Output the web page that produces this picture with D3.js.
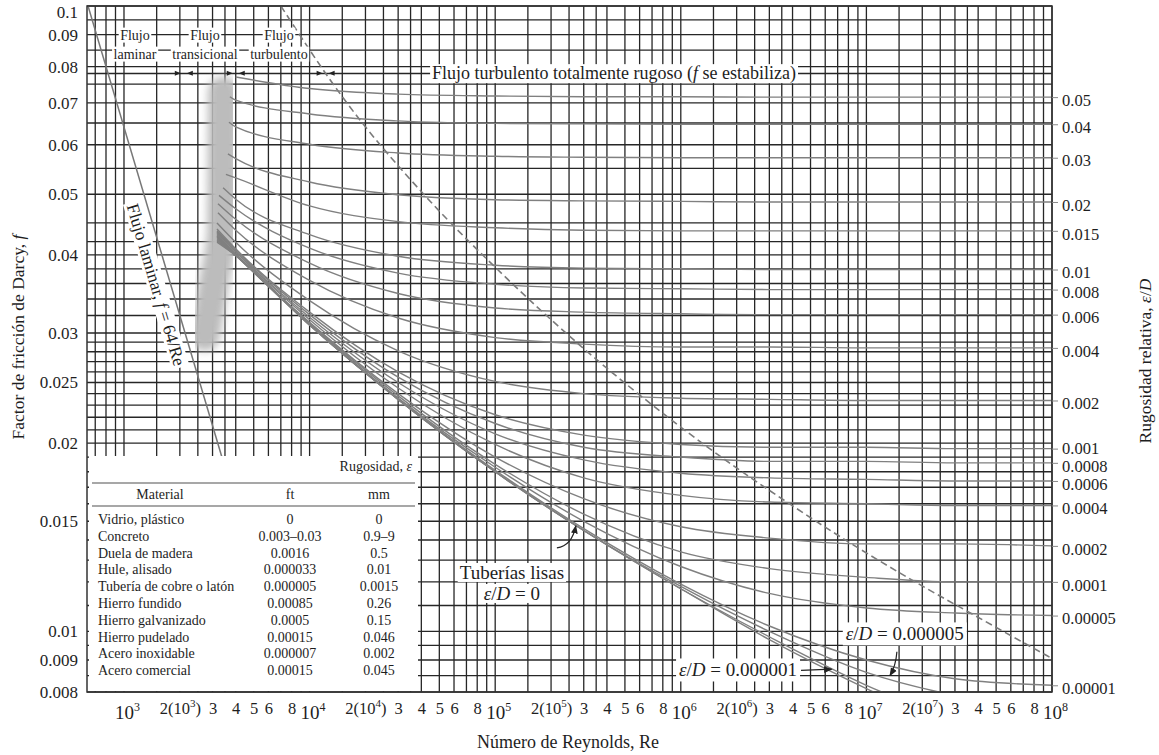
<!DOCTYPE html>
<html>
<head>
<meta charset="utf-8">
<script src="https://cdnjs.cloudflare.com/ajax/libs/d3/7.8.5/d3.min.js"></script>
<style>
  body { margin: 0; background: #fff; }
  text { font-family: "Liberation Serif", "DejaVu Serif", serif; fill: #1e1e1e; }
</style>
</head>
<body>
<svg id="chart" width="1159" height="755"></svg>
<script>
const reynolds = [4e3, 1e4, 3e4, 1e5, 3e5, 1e6, 3e6, 1e7, 3e7, 1e8];

// Darcy friction factor, one array per relative roughness
const f050    = [0.0770, 0.0738, 0.0723, 0.0718, 0.0716, 0.0716, 0.0715, 0.0715, 0.0715, 0.0715];
const f040    = [0.0707, 0.0672, 0.0655, 0.0649, 0.0648, 0.0647, 0.0647, 0.0647, 0.0647, 0.0647];
const f030    = [0.0641, 0.0601, 0.0582, 0.0575, 0.0573, 0.0572, 0.0572, 0.0572, 0.0572, 0.0572];
const f020    = [0.0570, 0.0523, 0.0499, 0.0490, 0.0488, 0.0487, 0.0486, 0.0486, 0.0486, 0.0486];
const f015    = [0.0531, 0.0479, 0.0452, 0.0442, 0.0438, 0.0437, 0.0437, 0.0437, 0.0437, 0.0437];
const f010    = [0.0491, 0.0431, 0.0398, 0.0385, 0.0381, 0.0380, 0.0379, 0.0379, 0.0379, 0.0379];
const f008    = [0.0474, 0.0410, 0.0374, 0.0359, 0.0354, 0.0353, 0.0352, 0.0352, 0.0352, 0.0352];
const f006    = [0.0456, 0.0388, 0.0347, 0.0329, 0.0324, 0.0322, 0.0321, 0.0321, 0.0321, 0.0321];
const f004    = [0.0438, 0.0364, 0.0317, 0.0295, 0.0288, 0.0285, 0.0285, 0.0284, 0.0284, 0.0284];
const f002    = [0.0419, 0.0338, 0.0281, 0.0251, 0.0240, 0.0236, 0.0235, 0.0234, 0.0234, 0.0234];
const f001    = [0.0409, 0.0324, 0.0260, 0.0222, 0.0206, 0.0199, 0.0197, 0.0197, 0.0196, 0.0196];
const f0008   = [0.0407, 0.0321, 0.0255, 0.0215, 0.0197, 0.0190, 0.0187, 0.0187, 0.0186, 0.0186];
const f0006   = [0.0405, 0.0318, 0.0250, 0.0207, 0.0188, 0.0179, 0.0176, 0.0175, 0.0174, 0.0174];
const f0004   = [0.0404, 0.0315, 0.0245, 0.0199, 0.0176, 0.0165, 0.0161, 0.0160, 0.0159, 0.0159];
const f0002   = [0.0401, 0.0312, 0.0240, 0.0190, 0.0163, 0.0147, 0.0141, 0.0138, 0.0138, 0.0137];
const f0001   = [0.0400, 0.0311, 0.0238, 0.0185, 0.0154, 0.0134, 0.0126, 0.0122, 0.0120, 0.0120];
const f00005  = [0.0400, 0.0310, 0.0236, 0.0183, 0.0150, 0.0127, 0.0115, 0.0109, 0.0107, 0.0106];
const f00001  = [0.0399, 0.0309, 0.0235, 0.0181, 0.0146, 0.0119, 0.0102, 0.0090, 0.0084, 0.0082];
const f000005 = [0.0399, 0.0309, 0.0235, 0.0180, 0.0145, 0.0118, 0.0100, 0.0086, 0.0079, 0.0075];
const f000001 = [0.0399, 0.0309, 0.0235, 0.0180, 0.0145, 0.0117, 0.0098, 0.0082, 0.0072, 0.0064];
const fSmooth = [0.0399, 0.0309, 0.0235, 0.0180, 0.0145, 0.0117, 0.0097, 0.0081, 0.0070, 0.0059];

const roughLabels = ["0.05", "0.04", "0.03", "0.02", "0.015", "0.01", "0.008", "0.006", "0.004",
  "0.002", "0.001", "0.0008", "0.0006", "0.0004", "0.0002", "0.0001", "0.00005", "0.00001"];
const roughCurves = [f050, f040, f030, f020, f015, f010, f008, f006, f004,
  f002, f001, f0008, f0006, f0004, f0002, f0001, f00005, f00001];
const lowCurves = [f000005, f000001, fSmooth];

// where each curve begins inside the transition band (same order: rough, then low)
const startRe = [4000, 3720, 3680, 3630, 3540, 3420, 3250, 3210, 3210, 3170, 3170,
  3170, 3170, 3170, 3170, 3170, 3170, 3170, 3170, 3170, 3170];
const startF = [0.0770, 0.0716, 0.0652, 0.0580, 0.0538, 0.0512, 0.0498, 0.0483, 0.0467, 0.0450, 0.0440,
  0.0437, 0.0435, 0.0433, 0.0431, 0.0429, 0.0427, 0.0425, 0.0423, 0.0421, 0.0419];

// laminar line f = 64/Re
const laminarRe = [632, 4000];
const laminarF = [0.1013, 0.016];

// dashed limit of the fully rough zone
const dashedRe = [7000, 15000, 45000, 1.03e5, 2.97e5, 6.54e5, 1.43e6, 3.97e6, 8.53e6, 1.83e7, 3.89e7, 1e8];
const dashedF = [0.1, 0.0716, 0.0486, 0.0379, 0.0284, 0.0234, 0.0196, 0.0159, 0.01374, 0.0120, 0.01058, 0.00905];

// shaded transition band (centre line)
const bandRe = [3420, 3380, 3060, 2730];
const bandF = [0.0729, 0.0438, 0.0362, 0.0297];

// flow regime boundaries marked with arrows
const boundaryRe = [2100, 4000, 12200];

// axes
const yTicks = [0.1, 0.09, 0.08, 0.07, 0.06, 0.05, 0.04, 0.03, 0.025, 0.02, 0.015, 0.01, 0.009, 0.008];
const yGrid = [0.1, 0.095, 0.09, 0.085, 0.08, 0.078, 0.075, 0.07, 0.065, 0.06, 0.055, 0.05, 0.045,
  0.042, 0.04, 0.038, 0.036, 0.034, 0.032, 0.03, 0.029, 0.028, 0.027, 0.026, 0.025, 0.024, 0.023,
  0.022, 0.021, 0.02, 0.019, 0.018, 0.017, 0.016, 0.015, 0.014, 0.013, 0.012, 0.011, 0.01,
  0.0095, 0.009, 0.0085, 0.008];
const xGridSteps = [1, 1.5, 2, 2.5, 3, 3.5, 4, 5, 6, 7, 8, 9];
const xLabelSteps = [1, 2, 3, 4, 5, 6, 8];
const decades = [1e2, 1e3, 1e4, 1e5, 1e6, 1e7, 1e8];

// roughness table
const materials = ["Vidrio, plástico", "Concreto", "Duela de madera", "Hule, alisado",
  "Tubería de cobre o latón", "Hierro fundido", "Hierro galvanizado", "Hierro pudelado",
  "Acero inoxidable", "Acero comercial"];
const roughFt = ["0", "0.003–0.03", "0.0016", "0.000033", "0.000005", "0.00085", "0.0005",
  "0.00015", "0.000007", "0.00015"];
const roughMm = ["0", "0.9–9", "0.5", "0.01", "0.0015", "0.26", "0.15", "0.046", "0.002", "0.045"];

const serif = '"Liberation Serif", "DejaVu Serif", serif';
const svg = d3.select("#chart");

const x = d3.scaleLog().domain([632, 1e8]).range([87, 1052]);
const y = d3.scaleLog().domain([0.008, 0.1]).range([692, 6]);

// white box behind a text, drawn in the text's own group
function backed(parent, transform, padX, padY, build) {
  const g = parent.append("g");
  if (transform) g.attr("transform", transform);
  const t = g.append("text");
  build(t);
  const b = t.node().getBBox();
  g.insert("rect", "text").attr("x", b.x - padX).attr("y", b.y - padY)
    .attr("width", b.width + 2 * padX).attr("height", b.height + 2 * padY).attr("fill", "#fff");
  return t;
}
function eps(t, rest) {
  t.append("tspan").attr("font-style", "italic").text("ε");
  t.append("tspan").text("/");
  t.append("tspan").attr("font-style", "italic").text("D");
  t.append("tspan").text(rest);
}

const defs = svg.append("defs");
defs.append("clipPath").attr("id", "plot")
  .append("rect").attr("x", 87).attr("y", 6).attr("width", 965).attr("height", 686);
defs.append("filter").attr("id", "soft").attr("x", "-50%").attr("y", "-20%")
  .attr("width", "200%").attr("height", "140%")
  .append("feGaussianBlur").attr("stdDeviation", 4.5);
defs.append("marker").attr("id", "head").attr("viewBox", "0 0 10 10")
  .attr("refX", 9).attr("refY", 5).attr("markerWidth", 7).attr("markerHeight", 7)
  .attr("orient", "auto")
  .append("path").attr("d", "M0,1 L10,5 L0,9 z").attr("fill", "#222");

// grid
const xGrid = decades.flatMap(d => xGridSteps.map(s => s * d))
  .filter(v => v >= 632 && v <= 1e8);
const grid = svg.append("g").attr("stroke", "#262626").attr("stroke-width", 1.3);
grid.selectAll("line.v").data(xGrid).join("line").attr("class", "v")
  .attr("x1", d => x(d)).attr("x2", d => x(d)).attr("y1", y(0.1)).attr("y2", y(0.008));
grid.selectAll("line.h").data(yGrid).join("line").attr("class", "h")
  .attr("y1", d => y(d)).attr("y2", d => y(d)).attr("x1", x(632)).attr("x2", x(1e8));

// transition band
svg.append("path")
  .datum(bandRe.map((r, i) => [r, bandF[i]]))
  .attr("d", d3.line().x(d => x(d[0])).y(d => y(d[1])).curve(d3.curveMonotoneY))
  .attr("fill", "none").attr("stroke", "#bcbcbc").attr("stroke-width", 30)
  .attr("stroke-linecap", "round").attr("stroke-linejoin", "round")
  .attr("filter", "url(#soft)");

const plot = svg.append("g").attr("clip-path", "url(#plot)");
const curveLine = d3.line().x(d => x(d[0])).y(d => y(d[1])).curve(d3.curveMonotoneX);

// dashed boundary
plot.append("path")
  .datum(dashedRe.map((r, i) => [r, dashedF[i]]))
  .attr("d", curveLine).attr("fill", "none")
  .attr("stroke", "#7a7a7a").attr("stroke-width", 1.6).attr("stroke-dasharray", "7,4");

// friction curves
plot.selectAll("path.curve").data(roughCurves.concat(lowCurves)).join("path")
  .attr("class", "curve")
  .attr("d", (fs, i) => curveLine([[startRe[i], startF[i]]].concat(
    reynolds.map((r, k) => [r, fs[k]]).filter(p => p[0] > startRe[i]))))
  .attr("fill", "none").attr("stroke", "#808080").attr("stroke-width", 1.4);

// laminar line
plot.append("path")
  .datum(laminarRe.map((r, i) => [r, laminarF[i]]))
  .attr("d", d3.line().x(d => x(d[0])).y(d => y(d[1])))
  .attr("stroke", "#777").attr("stroke-width", 1.5).attr("fill", "none");

// frame
svg.append("rect").attr("x", 87).attr("y", 6).attr("width", 965).attr("height", 686)
  .attr("fill", "none").attr("stroke", "#333").attr("stroke-width", 1.5);

// left axis
const yAxis = d3.axisLeft(y).tickValues(yTicks).tickFormat(d => String(d)).tickSize(0).tickPadding(9);
const gy = svg.append("g").attr("transform", `translate(${x(632)},0)`).call(yAxis);
gy.select(".domain").remove();
gy.attr("font-family", serif).attr("font-size", 17).style("color", "#1e1e1e");
gy.selectAll(".tick text").filter(d => d === 0.1).attr("dy", "0.7em");

// bottom axis labels
const xLabels = decades.slice(1, 6).flatMap(d => xLabelSteps.map(s => s * d)).concat([1e8]);
const xAxis = d3.axisBottom(x).tickValues(xLabels).tickSize(0).tickFormat("");
const gx = svg.append("g").attr("transform", `translate(0,${y(0.008)})`).call(xAxis);
gx.select(".domain").remove();
gx.selectAll(".tick").each(function (d) {
  const k = Math.floor(Math.log10(d) + 1e-9);
  const m = Math.round(d / Math.pow(10, k));
  const t = d3.select(this).append("text").attr("fill", "#1e1e1e")
    .attr("text-anchor", "middle").attr("font-family", serif);
  if (m === 1) {
    t.attr("x", 3).attr("y", 27).attr("font-size", 19);
    t.append("tspan").text("10");
    t.append("tspan").attr("dy", -8).attr("font-size", 12).text(k);
  } else if (m === 2) {
    t.attr("y", 22).attr("font-size", 16.5);
    t.append("tspan").text("2(10");
    t.append("tspan").attr("dy", -7).attr("font-size", 11).text(k);
    t.append("tspan").attr("dy", 7).text(")");
  } else {
    t.attr("y", 22).attr("font-size", 16.5).text(m);
  }
});

// right axis: relative roughness of each curve
const endValues = roughCurves.map(fs => fs[fs.length - 1]);
const endLabel = new Map(endValues.map((v, i) => [v, roughLabels[i]]));
const rAxis = d3.axisRight(y).tickValues(endValues).tickFormat(d => endLabel.get(d))
  .tickSize(6).tickPadding(4);
const gr = svg.append("g").attr("transform", `translate(${x(1e8)},0)`).call(rAxis);
gr.select(".domain").remove();
gr.attr("font-family", serif).attr("font-size", 16.5).style("color", "#1e1e1e");
gr.selectAll(".tick line").attr("stroke", "#888");
gr.selectAll(".tick text").attr("dy", "0.5em");
gr.selectAll(".tick text").filter(d => endLabel.get(d) === "0.001").attr("dy", "0.32em");

// axis titles
svg.append("text").attr("transform", "translate(24,337) rotate(-90)")
  .attr("text-anchor", "middle").attr("font-size", 17.5)
  .call(t => { t.append("tspan").text("Factor de fricción de Darcy, ");
               t.append("tspan").attr("font-style", "italic").text("f"); });
svg.append("text").attr("transform", "translate(1151,361) rotate(-90)")
  .attr("text-anchor", "middle").attr("font-size", 17.5)
  .call(t => { t.append("tspan").text("Rugosidad relativa, "); eps(t, ""); });
svg.append("text").attr("x", 568).attr("y", 748).attr("text-anchor", "middle")
  .attr("font-size", 18).text("Número de Reynolds, Re");

// regime labels at the top
const regimeRe = [1146, 2730, 6840];
const regimeText = [["Flujo", "laminar"], ["Flujo", "transicional"], ["Flujo", "turbulento"]];
regimeRe.forEach((r, i) => {
  regimeText[i].forEach((s, j) => {
    backed(svg, null, 1.5, 0, t => t.attr("x", x(r)).attr("y", y(0.09) + 5 + j * 19)
      .attr("text-anchor", "middle").attr("font-size", 14).text(s));
  });
});

// boundary arrows
const arrowY = y(0.0781);
boundaryRe.forEach(r => {
  const cx = x(r);
  svg.append("path").attr("d", `M${cx - 9},${arrowY - 2.5} L${cx - 3},${arrowY} L${cx - 9},${arrowY + 2.5} Z`).attr("fill", "#222");
  svg.append("path").attr("d", `M${cx + 9},${arrowY - 2.5} L${cx + 3},${arrowY} L${cx + 9},${arrowY + 2.5} Z`).attr("fill", "#222");
});

backed(svg, null, 2, -1, t => {
  t.attr("x", x(4.37e5)).attr("y", y(0.0781) + 6).attr("text-anchor", "middle").attr("font-size", 18);
  t.append("tspan").text("Flujo turbulento totalmente rugoso (");
  t.append("tspan").attr("font-style", "italic").text("f");
  t.append("tspan").text(" se estabiliza)");
});

// laminar label along the line
const la = [x(1000), y(0.064)], lb = [x(2000), y(0.032)];
const ang = Math.atan2(lb[1] - la[1], lb[0] - la[0]) * 180 / Math.PI;
const lp = [x(1760), y(64 / 1760)];
backed(svg, `translate(${lp[0]},${lp[1]}) rotate(${ang})`, 2, -1, t => {
  t.attr("text-anchor", "middle").attr("y", 20).attr("font-size", 17.5);
  t.append("tspan").text("Flujo laminar, ");
  t.append("tspan").attr("font-style", "italic").text("f");
  t.append("tspan").text(" = 64/Re");
});

// roughness table
const tb = svg.append("g");
tb.append("rect").attr("x", 89).attr("y", 456).attr("width", 329).attr("height", 235).attr("fill", "#fff");
tb.append("text").attr("x", 412).attr("y", 471).attr("text-anchor", "end").attr("font-size", 14)
  .call(t => { t.append("tspan").text("Rugosidad, ");
               t.append("tspan").attr("font-style", "italic").text("ε"); });
tb.append("line").attr("x1", 92).attr("x2", 415).attr("y1", 483).attr("y2", 483)
  .attr("stroke", "#8a8a8a").attr("stroke-width", 1.6);
tb.append("line").attr("x1", 92).attr("x2", 415).attr("y1", 506).attr("y2", 506)
  .attr("stroke", "#8a8a8a").attr("stroke-width", 1.6);
[["Material", 160], ["ft", 290], ["mm", 379]].forEach(h => {
  tb.append("text").attr("x", h[1]).attr("y", 499).attr("text-anchor", "middle")
    .attr("font-size", 14).text(h[0]);
});
materials.forEach((m, i) => {
  const yy = 524 + i * 16.8;
  tb.append("text").attr("x", 98).attr("y", yy).attr("font-size", 14).text(m);
  tb.append("text").attr("x", 290).attr("y", yy).attr("text-anchor", "middle").attr("font-size", 14).text(roughFt[i]);
  tb.append("text").attr("x", 379).attr("y", yy).attr("text-anchor", "middle").attr("font-size", 14).text(roughMm[i]);
});

// smooth pipe note
const sx = x(1.23e5), sy = y(0.0124);
backed(svg, null, 2, -1, t => t.attr("x", sx).attr("y", sy + 6).attr("text-anchor", "middle")
  .attr("font-size", 19).text("Tuberías lisas"));
backed(svg, null, 2, -1, t => {
  t.attr("x", sx).attr("y", sy + 27).attr("text-anchor", "middle").attr("font-size", 19);
  eps(t, " = 0");
});
const a0 = [x(2.15e5), y(0.0136)], a1 = [x(2.72e5), y(0.01475)];
svg.append("path").attr("d", `M${a0[0]},${a0[1]} Q${a1[0] - 4},${a0[1] - 2} ${a1[0]},${a1[1]}`)
  .attr("fill", "none").attr("stroke", "#222").attr("stroke-width", 1.2)
  .attr("marker-end", "url(#head)");

// eps/D = 0.000005 note
const nx = x(1.61e7), ny = y(0.00989);
backed(svg, null, 3, 1, t => {
  t.attr("x", nx).attr("y", ny + 6).attr("text-anchor", "middle").attr("font-size", 19);
  eps(t, " = 0.000005");
});
const b0 = [x(1.46e7), y(0.00928)], b1 = [x(1.34e7), y(0.0085)];
svg.append("path").attr("d", `M${b0[0]},${b0[1]} Q${b0[0] - 1},${(b0[1] + b1[1]) / 2 + 2} ${b1[0]},${b1[1]}`)
  .attr("fill", "none").attr("stroke", "#222").attr("stroke-width", 1.2)
  .attr("marker-end", "url(#head)");

// eps/D = 0.000001 note
const mx = x(4.23e6), my = y(0.00866);
backed(svg, null, 3, 1, t => {
  t.attr("x", mx).attr("y", my + 6).attr("text-anchor", "end").attr("font-size", 19);
  eps(t, " = 0.000001");
});
svg.append("path").attr("d", `M${mx + 4},${my} L${x(6.5e6)},${y(0.0087)}`)
  .attr("fill", "none").attr("stroke", "#222").attr("stroke-width", 1.2)
  .attr("marker-end", "url(#head)");
</script>
</body>
</html>
